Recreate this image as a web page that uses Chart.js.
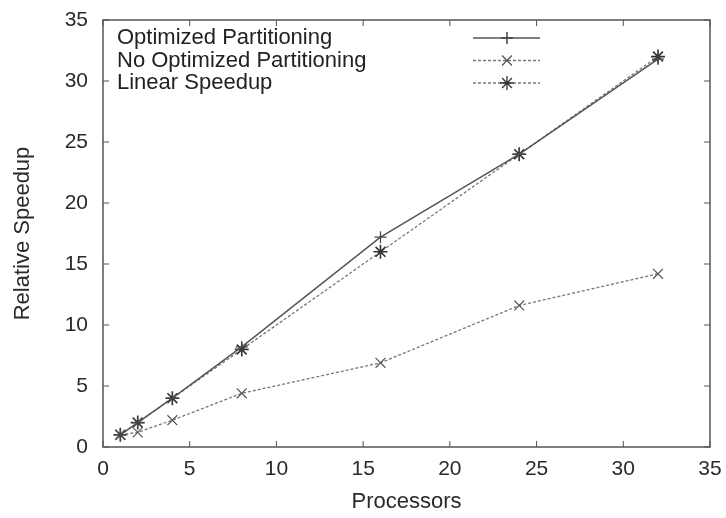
<!DOCTYPE html>
<html>
<head>
<meta charset="utf-8">
<script src="https://cdn.jsdelivr.net/npm/chart.js@4/dist/chart.umd.min.js"></script>
<style>
  html, body { margin: 0; padding: 0; background: #fff; }
  #wrap { width: 726px; height: 518px; }
</style>
</head>
<body>
<div id="wrap"><canvas id="c" width="726" height="518"></canvas></div>
<script>
// processors on x, relative speedup on y
const processors = [1, 2, 4, 8, 16, 24, 32];
const optimized = [1, 2, 4, 8.2, 17.2, 24, 31.8];
const notOptimized = [1, 1.2, 2.2, 4.4, 6.9, 11.6, 14.2];
const linear = [1, 2, 4, 8, 16, 24, 32];
const seriesNames = ['Optimized Partitioning', 'No Optimized Partitioning', 'Linear Speedup'];

const ink = '#2a2a2a';
const font = "'Liberation Sans', Arial, sans-serif";

function pts(ys) {
    return processors.map((x, i) => ({ x: x, y: ys[i] }));
}

// keep the plot box where the reference has it
function noOverflow(s) {
    s.paddingLeft = s.paddingRight = s.paddingTop = s.paddingBottom = 0;
}

// gnuplot style frame with inward ticks on all four sides
const framePlugin = {
    id: 'frame',
    afterDraw(chart) {
        const ctx = chart.ctx;
        const a = chart.chartArea;
        const xs = chart.scales.x, ys = chart.scales.y;
        ctx.save();
        ctx.strokeStyle = '#555';
        ctx.lineWidth = 1.5;
        ctx.strokeRect(a.left, a.top, a.right - a.left, a.bottom - a.top);
        ctx.lineWidth = 1;
        xs.ticks.forEach(t => {
            const px = xs.getPixelForValue(t.value);
            ctx.beginPath();
            ctx.moveTo(px, a.bottom); ctx.lineTo(px, a.bottom - 6);
            ctx.moveTo(px, a.top); ctx.lineTo(px, a.top + 6);
            ctx.stroke();
        });
        ys.ticks.forEach(t => {
            const py = ys.getPixelForValue(t.value);
            ctx.beginPath();
            ctx.moveTo(a.left, py); ctx.lineTo(a.left + 6, py);
            ctx.moveTo(a.right, py); ctx.lineTo(a.right - 6, py);
            ctx.stroke();
        });
        ctx.restore();
    }
};

// key drawn inside the plot, top left, like gnuplot
const keyPlugin = {
    id: 'key',
    afterDraw(chart) {
        const ctx = chart.ctx;
        const a = chart.chartArea;
        ctx.save();
        ctx.font = '22px ' + font;
        ctx.fillStyle = '#222';
        ctx.textBaseline = 'middle';
        chart.data.datasets.forEach((ds, i) => {
            const y = a.top + 18 + i * 22.5;
            ctx.fillText(ds.label, a.left + 14, y);
            ctx.beginPath();
            ctx.strokeStyle = ds.borderColor;
            ctx.lineWidth = ds.borderWidth;
            ctx.setLineDash(ds.borderDash || []);
            ctx.moveTo(a.left + 370, y);
            ctx.lineTo(a.left + 437, y);
            ctx.stroke();
            ctx.setLineDash([]);
            ctx.strokeStyle = ds.pointBorderColor;
            Chart.helpers.drawPoint(ctx, {
                pointStyle: ds.pointStyle,
                radius: ds.pointRadius,
                borderWidth: 1.2
            }, a.left + 404, y);
        });
        ctx.restore();
    }
};

new Chart(document.getElementById('c'), {
    type: 'line',
    data: {
        datasets: [{
            label: seriesNames[0],
            data: pts(optimized),
            borderColor: '#555',
            borderWidth: 1.5,
            pointStyle: 'cross',
            pointRadius: 6,
            pointBorderColor: '#444',
            pointBorderWidth: 1.2
        }, {
            label: seriesNames[1],
            data: pts(notOptimized),
            borderColor: '#777',
            borderWidth: 1.3,
            borderDash: [3, 2],
            pointStyle: 'crossRot',
            pointRadius: 7,
            pointBorderColor: '#555',
            pointBorderWidth: 1.2
        }, {
            label: seriesNames[2],
            data: pts(linear),
            borderColor: '#777',
            borderWidth: 1.3,
            borderDash: [3, 2],
            pointStyle: 'star',
            pointRadius: 7,
            pointBorderColor: '#333',
            pointBorderWidth: 1.6
        }]
    },
    options: {
        animation: false,
        responsive: false,
        layout: { padding: { left: 0, top: 20, right: 16, bottom: 0 } },
        plugins: { legend: { display: false }, tooltip: { enabled: false } },
        scales: {
            x: {
                type: 'linear',
                min: 0, max: 35,
                ticks: { stepSize: 5, color: ink, font: { family: font, size: 21 }, padding: 10, maxRotation: 0 },
                grid: { display: false, drawTicks: false },
                border: { display: false },
                title: { display: true, text: 'Processors', color: ink, font: { family: font, size: 22 }, padding: { top: 4, bottom: 3 } },
                afterFit(s) { s.height = 71; noOverflow(s); }
            },
            y: {
                min: 0, max: 35,
                ticks: { stepSize: 5, color: ink, font: { family: font, size: 21 }, padding: 15 },
                grid: { display: false, drawTicks: false },
                border: { display: false },
                title: { display: true, text: 'Relative Speedup', color: ink, font: { family: font, size: 22 }, padding: { top: 10, bottom: 4 } },
                afterFit(s) { s.width = 103; noOverflow(s); }
            }
        }
    },
    plugins: [framePlugin, keyPlugin]
});
</script>
</body>
</html>
